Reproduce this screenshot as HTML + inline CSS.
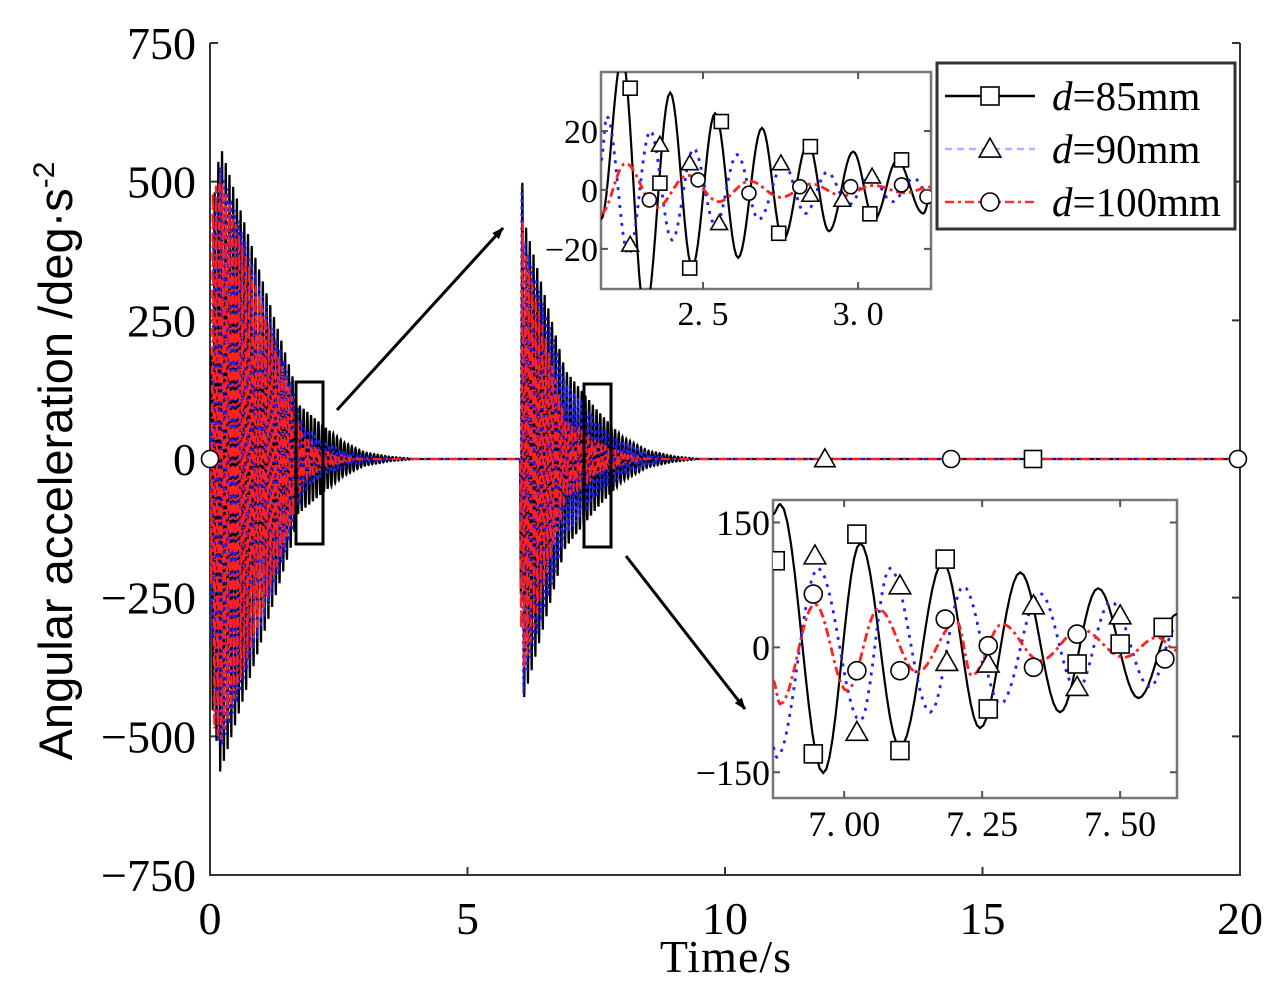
<!DOCTYPE html>
<html><head><meta charset="utf-8">
<style>
html,body{margin:0;padding:0;background:#fff;}
svg{display:block;font-family:"Liberation Serif",serif;}
</style></head>
<body>
<svg id="chart" width="1280" height="1008" viewBox="0 0 1280 1008" xmlns="http://www.w3.org/2000/svg">
<defs>
<clipPath id="clipMain"><rect x="210" y="43" width="1030" height="832"/></clipPath>
<clipPath id="clipIn1"><rect x="601" y="72" width="330" height="217"/></clipPath>
<clipPath id="clipIn2"><rect x="773" y="500" width="404" height="298"/></clipPath>
<marker id="arrowHead" markerWidth="12" markerHeight="9" refX="11" refY="4.5" orient="auto" markerUnits="userSpaceOnUse"><path d="M0,0 L12,4.5 L0,9 Z" fill="#000"/></marker>
</defs>
<g id="mainAxes"></g>
<g id="mainSeries" clip-path="url(#clipMain)"></g>
<g id="mainMarkers"></g>
<g id="annot">
  <rect x="296" y="382" width="27" height="162" fill="none" stroke="#000" stroke-width="3"/>
  <rect x="584" y="384" width="27" height="163" fill="none" stroke="#000" stroke-width="3"/>
  <line x1="337" y1="410" x2="503" y2="228" stroke="#000" stroke-width="3" marker-end="url(#arrowHead)"/>
  <line x1="626" y1="556" x2="745" y2="709" stroke="#000" stroke-width="3" marker-end="url(#arrowHead)"/>
</g>
<g id="inset1"></g>
<g id="inset2"></g>
<g id="legend"></g>
<text x="726" y="972" font-size="46" text-anchor="middle" letter-spacing="1">Time/s</text>
<text transform="translate(72,461) rotate(-90)" font-size="47" text-anchor="middle" font-family="Liberation Sans, sans-serif">Angular acceleration /deg·s<tspan dy="-18" font-size="30">-2</tspan></text>
</svg>
<script>
// ---------- data ----------
const xTicks = [0, 5, 10, 15, 20];
const yTicks = [750, 500, 250, 0, -250, -500, -750];
const seriesNames = ["d=85mm", "d=90mm", "d=100mm"];
const seriesColors = ["#000000", "#2020ff", "#ff2020"];
const seriesPeriods = [0.072, 0.068, 0.064];
// envelope amplitude vs time for each series (main plot)
const envTimeBlack = [0, 0.05, 0.2, 1.6, 1.7, 2.2, 2.6, 3.0, 3.5, 4.0, 6.0, 6.02, 6.05, 6.1, 6.9, 7.5, 8.0, 8.5, 9.0, 9.5];
const envAmpBlack  = [0, 450, 565, 150, 100, 60, 30, 12, 4, 0, 0, 0, 530, 430, 160, 90, 40, 15, 5, 0];
const envTimeBlue  = [0, 0.05, 0.2, 1.6, 1.8, 2.2, 2.6, 3.0, 3.5, 6.0, 6.02, 6.05, 6.1, 6.9, 7.5, 8.0, 8.5, 9.0];
const envAmpBlue   = [0, 430, 530, 130, 60, 30, 15, 6, 0, 0, 0, 500, 400, 140, 65, 30, 10, 0];
const envTimeRed   = [0, 0.05, 0.2, 1.6, 1.8, 2.2, 2.6, 3.0, 6.0, 6.02, 6.05, 6.1, 6.9, 7.5, 8.0, 8.5];
const envAmpRed    = [0, 480, 510, 110, 40, 15, 5, 0, 0, 0, 460, 380, 70, 30, 10, 0];
const mainMarkT = [0, 11.94, 14.39, 15.98, 19.96];
const mainMarkType = ["circle", "triangle", "circle", "square", "circle"];
// inset 1 (t 2.17-3.24)
const in1XTicks = [2.5, 3.0];
const in1XLabels = ["2. 5", "3. 0"];
const in1YTicks = [20, 0, -20];
const in1BlackT = [2.171, 2.239, 2.313, 2.394, 2.465, 2.539, 2.613, 2.690, 2.758, 2.839, 2.906, 2.984, 3.052, 3.126, 3.210, 3.235];
const in1BlackV = [-10, 45, -42, 33, -26, 26, -23, 21, -17, 16, -14, 13, -10, 10, -8, -2];
const in1BlueT = [2.171, 2.19, 2.26, 2.33, 2.40, 2.47, 2.54, 2.61, 2.68, 2.76, 2.83, 2.90, 2.97, 3.04, 3.11, 3.18, 3.235];
const in1BlueV = [10, 25, -22, 20, -17, 14, -12, 12, -10, 9, -8, 6, -5, 5, -4, 4, -3];
const in1RedT = [2.171, 2.25, 2.35, 2.45, 2.55, 2.65, 2.75, 2.85, 2.95, 3.05, 3.15, 3.235];
const in1RedV = [-8, 9, -6, 5, -4, 3, -2.5, 2, -2, 1.5, -1, 1];
const in1SqT = [2.265, 2.361, 2.457, 2.559, 2.744, 2.846, 3.038, 3.140];
const in1SqV = [34.5, 2.3, -26.5, 23.2, -14.7, 14.7, -8.1, 10.2];
const in1TrT = [2.265, 2.361, 2.457, 2.552, 2.751, 2.846, 2.949, 3.045];
const in1TrV = [-18.6, 15.3, 9, -11.3, 9, -1.7, -3.4, 4.5];
const in1CiT = [2.327, 2.484, 2.648, 2.812, 2.976, 3.140, 3.222];
const in1CiV = [-3.4, 3.4, -1.1, 1.1, 1.1, 1.7, -2.3];
// inset 2 (t 6.87-7.60)
const in2XTicks = [7.00, 7.25, 7.50];
const in2XLabels = ["7. 00", "7. 25", "7. 50"];
const in2YTicks = [150, 0, -150];
const in2BlackT = [6.871, 6.884, 6.962, 7.029, 7.101, 7.179, 7.246, 7.319, 7.391, 7.460, 7.533, 7.603];
const in2BlackV = [160, 172, -151, 125, -120, 102, -97, 90, -78, 71, -61, 40];
const in2BlueT = [6.871, 6.878, 6.953, 7.029, 7.083, 7.156, 7.216, 7.283, 7.355, 7.422, 7.483, 7.554, 7.603];
const in2BlueV = [-120, -132, 95, -88, 95, -78, 73, -68, 65, -52, 55, -48, 25];
const in2RedT = [6.871, 6.884, 6.947, 7.005, 7.062, 7.132, 7.204, 7.231, 7.286, 7.355, 7.428, 7.507, 7.567, 7.603];
const in2RedV = [-40, -68, 52, -52, 46, -30, 31, -34, 28, -16, 22, -12, 12, -4];
const in2SqT = [6.875, 6.944, 7.023, 7.101, 7.183, 7.261, 7.422, 7.500, 7.578];
const in2SqV = [104, -128, 136, -124, 106, -74, -20, 4, 24];
const in2TrT = [6.947, 7.023, 7.101, 7.186, 7.261, 7.343, 7.422, 7.500];
const in2TrV = [110, -102, 74, -18, -20, 50, -48, 38];
const in2CiT = [6.944, 7.023, 7.101, 7.183, 7.261, 7.343, 7.422, 7.581];
const in2CiV = [64, -28, -28, 34, 2, -24, 16, -14];

// ---------- helpers ----------
const NS = "http://www.w3.org/2000/svg";
function mk(tag, attrs, parent) {
  const e = document.createElementNS(NS, tag);
  for (const k in attrs) e.setAttribute(k, attrs[k]);
  parent.appendChild(e);
  return e;
}
const mx = t => 210 + (t / 20) * 1030;
const my = v => 459 - v * (416 / 750);
const dashes = ["", "3,4", "9,4,2,4"];

function interpEnv(T, A, t) {
  if (t <= T[0] || t >= T[T.length - 1]) return 0;
  for (let i = 0; i < T.length - 1; i++) {
    if (t >= T[i] && t <= T[i + 1]) {
      const f = (t - T[i]) / (T[i + 1] - T[i]);
      return A[i] + (A[i + 1] - A[i]) * f;
    }
  }
  return 0;
}
function marker(type, x, y, s, parent, name) {
  let e;
  if (type === "square") e = mk("rect", {x: x - s / 2, y: y - s / 2, width: s, height: s}, parent);
  else if (type === "triangle") e = mk("polygon", {points: `${x},${y - s * 0.6} ${x - s * 0.6},${y + s * 0.45} ${x + s * 0.6},${y + s * 0.45}`}, parent);
  else e = mk("circle", {cx: x, cy: y, r: s / 2}, parent);
  e.setAttribute("fill", "#fff");
  e.setAttribute("stroke", "#000");
  e.setAttribute("stroke-width", "1.6");
  
  
  return e;
}
function text(x, y, str, size, anchor, parent, name) {
  const e = mk("text", {x: x, y: y, "font-size": size, "text-anchor": anchor, fill: "#000"}, parent);
  e.textContent = str;
  
  
  return e;
}

// ---------- main axes ----------
const ax = document.getElementById("mainAxes");
const axl = mk("path", {d: "M210,43 L210,875 L1240,875 L1240,43", fill: "none", stroke: "#333", "stroke-width": 2}, ax);


yTicks.forEach(v => {
  const y = my(v);
  const tk = mk("path", {d: `M210,${y} h8 M1240,${y} h-8`, stroke: "#333", "stroke-width": 2}, ax);
  
  
  text(196, y + 16, v < 0 ? "\u2212" + Math.abs(v) : String(v), 46, "end", ax, "y-tick-label");
});
xTicks.forEach(t => {
  const x = mx(t);
  const tk = mk("path", {d: `M${x},875 v-8`, stroke: "#333", "stroke-width": 2}, ax);
  
  
  text(x, 934, String(t), 46, "middle", ax, "x-tick-label");
});

// ---------- main series ----------
const ms = document.getElementById("mainSeries");
const envT = [envTimeBlack, envTimeBlue, envTimeRed];
const envA = [envAmpBlack, envAmpBlue, envAmpRed];
for (let s = 0; s < 3; s++) {
  let d = "";
  for (let t = 0; t <= 20.0001; t += 0.002) {
    const a = interpEnv(envT[s], envA[s], t);
    const v = a * Math.sin(2 * Math.PI * t / seriesPeriods[s] + s * 1.3);
    d += (d ? "L" : "M") + mx(t).toFixed(2) + "," + my(v).toFixed(2);
  }
  const p = mk("path", {d: d, fill: "none", stroke: seriesColors[s], "stroke-width": s === 0 ? 2.2 : 2.2}, ms);
  if (dashes[s]) p.setAttribute("stroke-dasharray", dashes[s]);
  
  
}
const mm = document.getElementById("mainMarkers");
mainMarkT.forEach((t, i) => marker(mainMarkType[i], mx(t), my(0), 17, mm, "main-marker-" + mainMarkType[i]));

// ---------- insets ----------
function drawInset(g, box, xr, yr, xTk, xLb, yTk, series, marks, clipId, msize, fsize, name) {
  const sx = t => box.x + (t - xr[0]) / (xr[1] - xr[0]) * box.w;
  const sy = v => box.y + box.h - (v - yr[0]) / (yr[1] - yr[0]) * box.h;
  const bg = mk("rect", {x: box.x, y: box.y, width: box.w, height: box.h, fill: "#fff", stroke: "#777", "stroke-width": 2.5}, g);
  
  
  const cg = mk("g", {"clip-path": `url(#${clipId})`}, g);
  series.forEach((s, si) => {
    let d = "";
    for (let i = 0; i < s.T.length - 1; i++) {
      for (let k = 0; k <= 12; k++) {
        const f = k / 12;
        const t = s.T[i] + (s.T[i + 1] - s.T[i]) * f;
        const v = s.V[i] + (s.V[i + 1] - s.V[i]) * (1 - Math.cos(Math.PI * f)) / 2;
        d += (d ? "L" : "M") + sx(t).toFixed(2) + "," + sy(v).toFixed(2);
      }
    }
    const p = mk("path", {d: d, fill: "none", stroke: seriesColors[si], "stroke-width": si === 0 ? 2.2 : 2.8}, cg);
    if (dashes[si]) p.setAttribute("stroke-dasharray", si === 1 ? "3,6" : "9,4,3,4");
    
    
  });
  marks.forEach(m => m.T.forEach((t, i) => marker(m.type, sx(t), sy(m.V[i]), msize, cg, name + "-marker-" + m.type)));
  xTk.forEach((t, i) => {
    const x = sx(t);
    const tk = mk("path", {d: `M${x},${box.y + box.h} v-7 M${x},${box.y} v7`, stroke: "#555", "stroke-width": 2}, g);
    
    
    text(x, box.y + box.h + fsize + 2, xLb[i], fsize, "middle", g, name + "-x-tick-label");
  });
  yTk.forEach(v => {
    const y = sy(v);
    const tk = mk("path", {d: `M${box.x},${y} h7 M${box.x + box.w},${y} h-7`, stroke: "#555", "stroke-width": 2}, g);
    
    
    text(box.x - 3, y + fsize * 0.35, v < 0 ? "\u2212" + Math.abs(v) : String(v), fsize, "end", g, name + "-y-tick-label");
  });
}
drawInset(document.getElementById("inset1"), {x: 601, y: 72, w: 330, h: 217}, [2.171, 3.235], [-33.6, 40], in1XTicks, in1XLabels, in1YTicks,
  [{T: in1BlackT, V: in1BlackV}, {T: in1BlueT, V: in1BlueV}, {T: in1RedT, V: in1RedV}],
  [{type: "square", T: in1SqT, V: in1SqV}, {type: "triangle", T: in1TrT, V: in1TrV}, {type: "circle", T: in1CiT, V: in1CiV}],
  "clipIn1", 14, 34, "inset1");
drawInset(document.getElementById("inset2"), {x: 773, y: 500, w: 404, h: 298}, [6.871, 7.603], [-181, 177], in2XTicks, in2XLabels, in2YTicks,
  [{T: in2BlackT, V: in2BlackV}, {T: in2BlueT, V: in2BlueV}, {T: in2RedT, V: in2RedV}],
  [{type: "square", T: in2SqT, V: in2SqV}, {type: "triangle", T: in2TrT, V: in2TrV}, {type: "circle", T: in2CiT, V: in2CiV}],
  "clipIn2", 18, 36, "inset2");

// ---------- legend ----------
const lg = document.getElementById("legend");
const lb = mk("rect", {x: 937, y: 63, width: 298, height: 166, fill: "#fff", stroke: "#333", "stroke-width": 3}, lg);


const legTypes = ["square", "triangle", "circle"];
const legColors = ["#000", "#aab8ff", "#ff3030"];
for (let i = 0; i < 3; i++) {
  const y = 96 + i * 53;
  const ln = mk("line", {x1: 945, y1: y, x2: 1035, y2: y, stroke: legColors[i], "stroke-width": 2.5}, lg);
  if (dashes[i]) ln.setAttribute("stroke-dasharray", i === 1 ? "7,5" : "9,4,3,4");
  
  
  marker(legTypes[i], 990, y, 18, lg, "legend-marker");
  const tx = mk("text", {x: 1052, y: y + 14, "font-size": 41}, lg);
  tx.innerHTML = '<tspan font-style="italic">d</tspan>=' + seriesNames[i].slice(2);
  
  
}
</script>
</body></html>
